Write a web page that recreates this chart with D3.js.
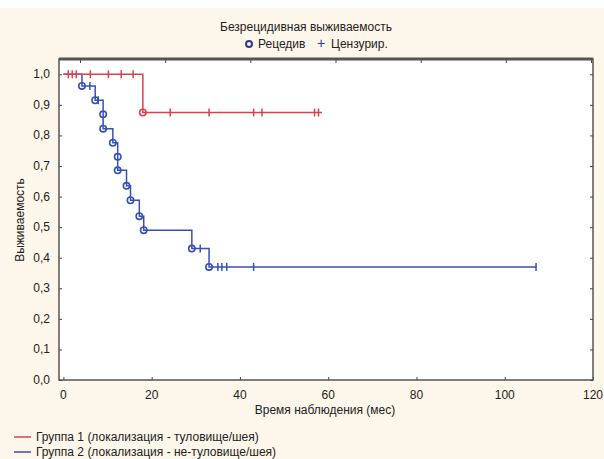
<!DOCTYPE html>
<html>
<head>
<meta charset="utf-8">
<script src="https://cdn.jsdelivr.net/npm/d3@7"></script>
<style>
  body { margin: 0; background: #fff; }
  text { font-family: "Liberation Sans", Arial, sans-serif; fill: #222; }
</style>
</head>
<body>
<div id="chart"></div>
<script>
// Kaplan-Meier: steps (event times / survival), censored times, end of follow-up
const g1Times = [18];
const g1Surv = [0.875];
const g1Censor = [1.1, 2.0, 2.9, 6.1, 10.2, 13.1, 15.8, 24.2, 33, 43.1, 45, 56.9, 57.8];
const g1End = 58.6;

const g2Times = [4.2, 7.2, 9.0, 9.0, 11.2, 12.3, 12.3, 14.3, 15.2, 17.2, 18.2, 29.1, 33.0];
const g2Surv = [0.962, 0.915, 0.869, 0.822, 0.776, 0.730, 0.686, 0.635, 0.588, 0.536, 0.490, 0.430, 0.370];
const g2Censor = [6.0, 7.9, 31.0, 35.0, 35.9, 37.0, 43.1, 107.1];
const g2End = 107.1;

const xTicks = [0, 20, 40, 60, 80, 100, 120];
const yTicks = [0, 0.1, 0.2, 0.3, 0.4, 0.5, 0.6, 0.7, 0.8, 0.9, 1.0];

const title = 'Безрецидивная выживаемость';
const groupNames = ['Группа 1 (локализация - туловище/шея)', 'Группа 2 (локализация - не-туловище/шея)'];
const red = '#d8434b', blue = '#3651b5';

const width = 604, height = 459;
const pL = 59, pR = 593, pT = 59, pB = 380;

const svg = d3.select('#chart').append('svg')
    .attr('width', width).attr('height', height);

svg.append('rect').attr('x', 0).attr('y', 8).attr('width', width).attr('height', height - 8)
    .attr('fill', '#fdf6ea');
svg.append('rect').attr('x', pL).attr('y', pT).attr('width', pR - pL).attr('height', pB - pT)
    .attr('fill', '#fff');

const x = d3.scaleLinear().domain([-1, 120]).range([pL, pR]);
const y = d3.scaleLinear().domain([0, 1.05]).range([pB, pT]);

const comma = d => d3.format('.1f')(d).replace('.', ',');

// axes
const xAxis = svg.append('g').attr('transform', `translate(0,${pB})`)
    .call(d3.axisTop(x).tickValues(xTicks).tickSize(3).tickFormat(''));
xAxis.select('.domain').remove();
svg.append('g').selectAll('text').data(xTicks).join('text')
    .attr('x', d => x(d)).attr('y', pB + 19)
    .attr('text-anchor', 'middle').attr('font-size', 12).text(d => d);

const yAxis = svg.append('g').attr('transform', `translate(${pL},0)`)
    .call(d3.axisRight(y).tickValues(yTicks).tickSize(3).tickFormat(''));
yAxis.select('.domain').remove();
svg.append('g').selectAll('text').data(yTicks).join('text')
    .attr('x', pL - 9).attr('y', d => y(d) + 4)
    .attr('text-anchor', 'end').attr('font-size', 12).text(comma);

// top and right border ticks
const xTop = d3.scaleLinear().domain([0, 6]).range([80, 591]);
svg.append('g').attr('transform', `translate(0,${pT})`)
    .call(d3.axisBottom(xTop).ticks(6).tickSize(4).tickFormat(''))
    .select('.domain').remove();
svg.append('g').attr('transform', `translate(${pR},0)`)
    .call(d3.axisLeft(y).tickValues(yTicks).tickSize(3).tickFormat(''))
    .select('.domain').remove();
svg.selectAll('.tick line').attr('stroke', '#444');

// frame
svg.append('rect').attr('x', pL).attr('y', pT).attr('width', pR - pL).attr('height', pB - pT)
    .attr('fill', 'none').attr('stroke', '#555').attr('stroke-width', 1.5);
svg.append('line').attr('x1', pL).attr('x2', pR).attr('y1', pT).attr('y2', pT)
    .attr('stroke', '#555').attr('stroke-width', 3);

function stepPoints(times, surv, end) {
  const pts = [[0, 1]];
  let s = 1;
  times.forEach((t, i) => { pts.push([t, s]); s = surv[i]; pts.push([t, s]); });
  pts.push([end, s]);
  return pts;
}
function survAt(times, surv, t) {
  let s = 1;
  times.forEach((tt, i) => { if (tt <= t) s = surv[i]; });
  return s;
}
const line = d3.line().x(d => x(d[0])).y(d => y(d[1]));

function drawGroup(times, surv, censor, end, color) {
  const g = svg.append('g');
  g.append('path').datum(stepPoints(times, surv, end))
      .attr('d', line).attr('fill', 'none').attr('stroke', color).attr('stroke-width', 1.5);
  g.selectAll('line.c').data(censor).join('line').attr('class', 'c')
      .attr('x1', d => x(d)).attr('x2', d => x(d))
      .attr('y1', d => y(survAt(times, surv, d)) - 4).attr('y2', d => y(survAt(times, surv, d)) + 4)
      .attr('stroke', color).attr('stroke-width', 1.5);
  g.selectAll('circle').data(times).join('circle')
      .attr('cx', d => x(d)).attr('cy', (d, i) => y(surv[i])).attr('r', 3.2)
      .attr('fill', 'none').attr('stroke', color).attr('stroke-width', 1.6);
}
drawGroup(g2Times, g2Surv, g2Censor, g2End, blue);
drawGroup(g1Times, g1Surv, g1Censor, g1End, red);

// titles
svg.append('text').attr('x', 306).attr('y', 31).attr('text-anchor', 'middle')
    .attr('font-size', 12).text(title);
svg.append('circle').attr('cx', 249).attr('cy', 44).attr('r', 3)
    .attr('fill', 'none').attr('stroke', '#2b3a8f').attr('stroke-width', 2);
svg.append('text').attr('x', 258).attr('y', 48).attr('font-size', 12).text('Рецедив');
svg.append('text').attr('x', 321).attr('y', 48).attr('text-anchor', 'middle')
    .attr('font-size', 14).style('fill', '#2b3a8f').text('+');
svg.append('text').attr('x', 331).attr('y', 48).attr('font-size', 12).text('Цензурир.');

svg.append('text').attr('x', 325).attr('y', 414).attr('text-anchor', 'middle')
    .attr('font-size', 12).text('Время наблюдения (мес)');
svg.append('text').attr('transform', 'translate(24,220) rotate(-90)').attr('text-anchor', 'middle')
    .attr('font-size', 12).text('Выживаемость');

// legend
const leg = svg.append('g');
[red, blue].forEach((c, i) => {
  const ly = 437 + i * 15;
  leg.append('line').attr('x1', 14).attr('x2', 31).attr('y1', ly).attr('y2', ly)
      .attr('stroke', c).attr('stroke-width', 1.5);
  leg.append('text').attr('x', 36).attr('y', ly + 4).attr('font-size', 12).text(groupNames[i]);
});
</script>
</body>
</html>
